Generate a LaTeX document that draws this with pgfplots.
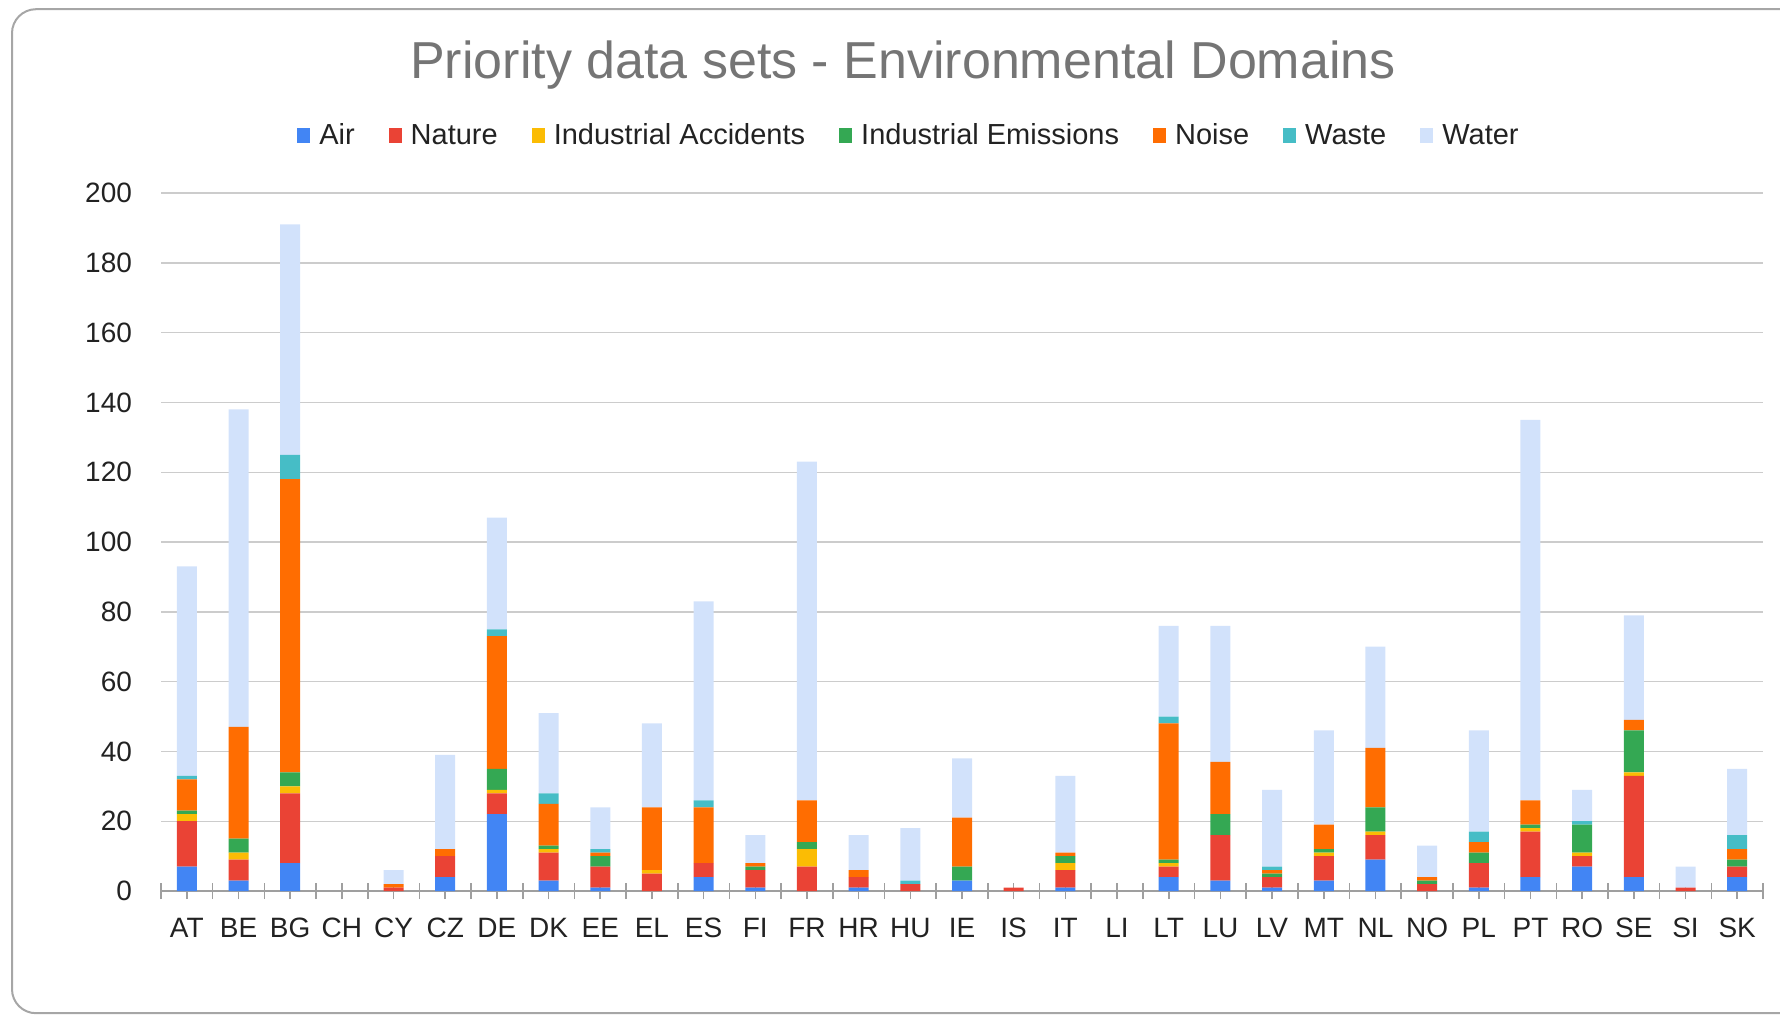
\documentclass[border=0pt]{standalone}
\usepackage{fontspec}
\setmainfont{Liberation Sans}
\usepackage{pgfplots}
\usepackage{pgfplotstable}
\pgfplotsset{compat=1.18}

\definecolor{cair}{HTML}{4285F4}
\definecolor{cnature}{HTML}{EA4335}
\definecolor{caccid}{HTML}{FBBC04}
\definecolor{cemis}{HTML}{34A853}
\definecolor{cnoise}{HTML}{FF6D01}
\definecolor{cwaste}{HTML}{46BDC6}
\definecolor{cwater}{RGB}{210,226,251}
\definecolor{titlegray}{HTML}{757575}
\definecolor{txt}{HTML}{222222}
\definecolor{framegray}{HTML}{A6A6A6}

% one row per country, counts per domain
\pgfplotstableread{
x name air nature accid emis noise waste water
0  AT 7  13 2 1  9  1 60
1  BE 3  6  2 4  32 0 91
2  BG 8  20 2 4  84 7 66
3  CH 0  0  0 0  0  0 0
4  CY 0  1  0 0  1  0 4
5  CZ 4  6  0 0  2  0 27
6  DE 22 6  1 6  38 2 32
7  DK 3  8  1 1  12 3 23
8  EE 1  6  0 3  1  1 12
9  EL 0  5  1 0  18 0 24
10 ES 4  4  0 0  16 2 57
11 FI 1  5  0 1  1  0 8
12 FR 0  7  5 2  12 0 97
13 HR 1  3  0 0  2  0 10
14 HU 0  2  0 0  0  1 15
15 IE 3  0  0 4  14 0 17
16 IS 0  1  0 0  0  0 0
17 IT 1  5  2 2  1  0 22
18 LI 0  0  0 0  0  0 0
19 LT 4  3  1 1  39 2 26
20 LU 3  13 0 6  15 0 39
21 LV 1  3  0 1  1  1 22
22 MT 3  7  1 1  7  0 27
23 NL 9  7  1 7  17 0 29
24 NO 0  2  0 1  1  0 9
25 PL 1  7  0 3  3  3 29
26 PT 4  13 1 1  7  0 109
27 RO 7  3  1 8  0  1 9
28 SE 4  29 1 12 3  0 30
29 SI 0  1  0 0  0  0 6
30 SK 4  3  0 2  3  4 19
}\domains

\pgfplotsset{sq/.style={legend image code/.code={\fill[##1] (0pt,-3.5pt) rectangle (6.5pt,4pt);}}}

\begin{document}
\begin{tikzpicture}
\draw[framegray, line width=1pt, rounded corners=12pt] (6pt,0.4pt) rectangle (912pt,502.4pt);
\node[anchor=base, text=titlegray, font=\fontsize{26}{30}\selectfont] at (451.5pt,467.5pt) {Priority data sets - Environmental Domains};
\begin{axis}[
  at={(80.5pt,61.5pt)}, anchor=south west,
  scale only axis, width=801pt, height=349pt,
  ybar stacked, bar width=10pt,
  xmin=-0.5, xmax=30.5, ymin=0, ymax=200,
  xtick={0,...,30},
  xticklabels={AT,BE,BG,CH,CY,CZ,DE,DK,EE,EL,ES,FI,FR,HR,HU,IE,IS,IT,LI,LT,LU,LV,MT,NL,NO,PL,PT,RO,SE,SI,SK},
  minor xtick={-0.5,0.5,...,30.5},
  ytick={0,20,...,200},
  axis lines=left, axis line style={-},
  x axis line style={draw=gray!75, line width=0.8pt},
  y axis line style={draw=none},
  tick align=center, major tick length=8pt, minor tick length=8pt,
  xtick style={draw=gray!75, line width=0.8pt},
  every minor tick/.append style={draw=gray!75, line width=0.8pt},
  ytick style={draw=none},
  ymajorgrids, major grid style={draw=gray!40, line width=0.7pt},
  ticklabel style={font=\fontsize{14}{16}\selectfont, text=txt},
  xticklabel style={yshift=-6pt},
  yticklabel style={xshift=-7pt},
  /pgf/number format/assume math mode=true,
  legend columns=7,
  legend style={at={(0.4675,1.0817)}, anchor=center, draw=none, fill=none,
    font=\fontsize{14.5}{17}\selectfont, text=txt,
    /tikz/every odd column/.append style={column sep=2.5pt},
    /tikz/every even column/.append style={column sep=15pt}},
]
\addplot[sq, fill=cair, draw=none] table[x=x, y=air] {\domains};
\addplot[sq, fill=cnature, draw=none] table[x=x, y=nature] {\domains};
\addplot[sq, fill=caccid, draw=none] table[x=x, y=accid] {\domains};
\addplot[sq, fill=cemis, draw=none] table[x=x, y=emis] {\domains};
\addplot[sq, fill=cnoise, draw=none] table[x=x, y=noise] {\domains};
\addplot[sq, fill=cwaste, draw=none] table[x=x, y=waste] {\domains};
\addplot[sq, fill=cwater, draw=none] table[x=x, y=water] {\domains};
\legend{Air, Nature, Industrial Accidents, Industrial Emissions, Noise, Waste, Water}
\end{axis}
\pgfresetboundingbox
\path[use as bounding box] (0,0) rectangle (890pt,507pt);
\end{tikzpicture}
\end{document}
